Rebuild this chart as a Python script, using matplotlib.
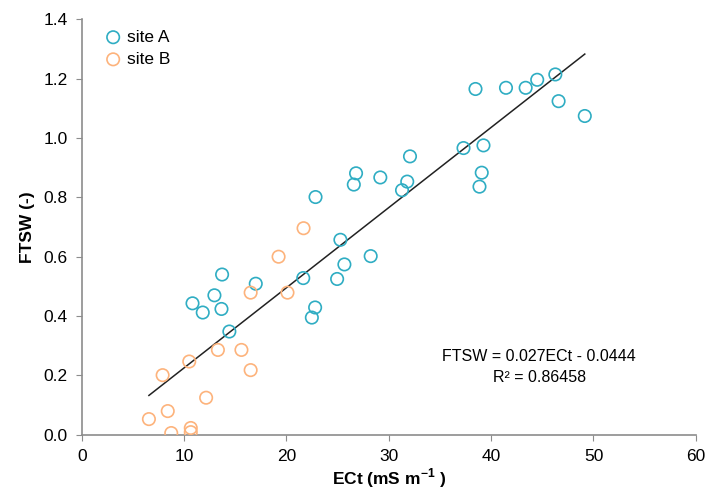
import matplotlib
matplotlib.use("Agg")
import matplotlib.pyplot as plt
import numpy as np

plt.rcParams['font.family'] = ['Liberation Sans', 'DejaVu Sans']

# site A (ECt, FTSW)
ect_a = [13.71, 17.0, 21.64, 12.96, 10.82, 11.82, 13.65, 14.42, 22.8, 22.48,
         32.07, 26.8, 29.17, 26.58, 31.8, 31.29, 22.84, 25.27, 28.23, 25.66, 24.95,
         38.47, 41.45, 43.37, 44.5, 46.27, 46.59, 49.15, 37.3, 39.25, 39.08, 38.86]
ftsw_a = [0.540, 0.509, 0.528, 0.470, 0.443, 0.412, 0.424, 0.348, 0.429, 0.395,
          0.938, 0.881, 0.867, 0.843, 0.853, 0.824, 0.801, 0.657, 0.602, 0.574, 0.525,
          1.165, 1.169, 1.169, 1.196, 1.214, 1.124, 1.074, 0.966, 0.975, 0.883, 0.836]

# site B
ect_b = [19.23, 16.5, 20.1, 13.3, 15.6, 10.5, 16.5, 7.9, 12.15, 8.4, 6.56,
         10.65, 10.65, 8.74, 21.67]
ftsw_b = [0.600, 0.479, 0.479, 0.286, 0.286, 0.247, 0.218, 0.201, 0.125, 0.080,
          0.053, 0.023, 0.009, 0.006, 0.696]

slope = 0.027
intercept = -0.0444
r2 = 0.86458

fig = plt.figure(figsize=(7.05, 4.93), dpi=100)
ax = fig.add_axes([0.116, 0.118, 0.871, 0.843])

ax.scatter(ect_a, ftsw_a, s=80, facecolors='none', edgecolors='#2fadc3',
           linewidths=1.2, label='site A', zorder=3)
ax.scatter(ect_b, ftsw_b, s=80, facecolors='none', edgecolors='#fdb37c',
           linewidths=1.2, label='site B', zorder=3)

all_x = np.array(ect_a + ect_b)
xl = np.array([all_x.min(), all_x.max()])
ax.plot(xl, slope * xl + intercept, color='#222222', lw=1.1, zorder=2)

ax.set_xlim(0, 60)
ax.set_ylim(0, 1.4)
ax.set_xticks(np.arange(0, 61, 10))
ax.set_yticks(np.arange(0, 1.41, 0.2))
ax.yaxis.set_major_formatter(matplotlib.ticker.FormatStrFormatter('%.1f'))

for s in ['top', 'right']:
    ax.spines[s].set_visible(False)
for s in ['left', 'bottom']:
    ax.spines[s].set_color('#8c8c8c')
    ax.spines[s].set_linewidth(1.2)
ax.tick_params(direction='out', length=4, color='#8c8c8c', labelsize=12.5, pad=6)

ax.set_xlabel('ECt (mS m$^{\\mathregular{-1}}$ )', fontsize=12.5, fontweight='bold', labelpad=2)
ax.set_ylabel('FTSW (-)', fontsize=12.5, fontweight='bold', labelpad=6)

ax.legend(loc='upper left', bbox_to_anchor=(0.02, 1.0), frameon=False,
          fontsize=12.5, handletextpad=0.3, borderaxespad=0.2, labelspacing=0.4,
          handlelength=1.0)

ax.text(0.745, 0.1875, 'FTSW = %.3fECt - %.4f' % (slope, -intercept), transform=ax.transAxes,
        ha='center', va='center', fontsize=11.5)
ax.text(0.745, 0.137, 'R² = %.5f' % r2, transform=ax.transAxes,
        ha='center', va='center', fontsize=11.5)

fig.savefig('out.png', dpi=100)
